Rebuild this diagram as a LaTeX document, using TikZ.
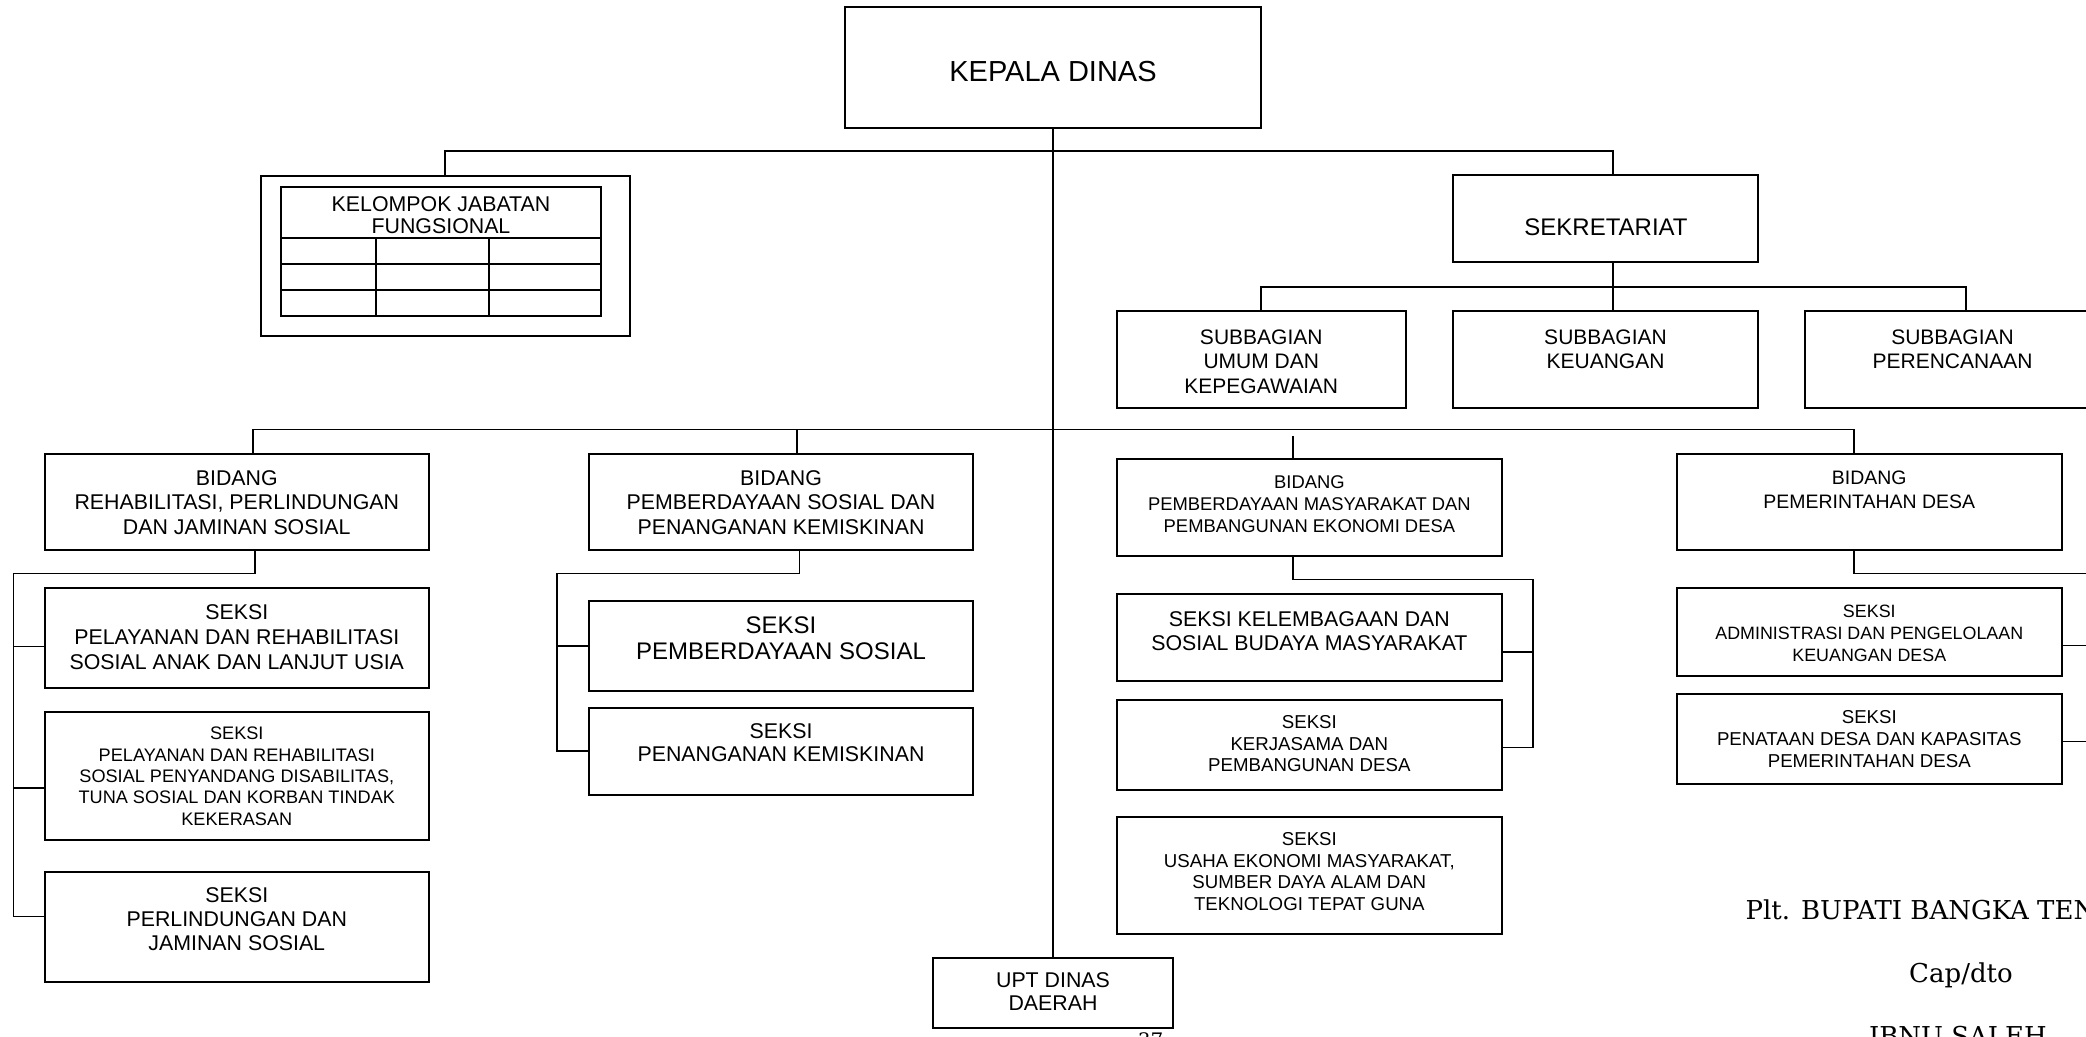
\documentclass[tikz,border=0pt]{standalone}
\usepackage{fontspec}
\setmainfont{Liberation Sans}
\newfontfamily\sigfont{DejaVu Serif}
\usetikzlibrary{calc}

\tikzset{every picture/.style={line width=0.75pt}}
\tikzset{
  box/.style 2 args={draw, line width=1.5pt, inner sep=0pt, minimum width=0.75*#1, minimum height=0.75*#2},
  txt/.style={align=center, anchor=north, inner sep=0pt},
  fs/.style 2 args={font=\fontsize{#1}{#2}\selectfont},
  conn/.style={line width=1.15pt},
}

\begin{document}
\begin{tikzpicture}[x=0.75pt,y=0.75pt,yscale=-1,xscale=1]
	\useasboundingbox (0,0) rectangle (2086,1037);
	\clip (0,0) rectangle (2086,1037);

	% kepala dinas
	\node[box={416}{121}] (kadis) at (1053,67.5) {};
	\node[fs={21.75}{25}, inner sep=0pt] (kadist) at ($(kadis.center)+(0,4)$) {KEPALA DINAS};

	% kelompok jabatan fungsional
	\node[box={369}{160}] (jf) at (445,256) {};
	\draw[line width=1.5pt] (281,187.5) rectangle (601,316.5);
	\draw[line width=1.5pt] (281,238) -- (601,238) (281,264) -- (601,264) (281,290) -- (601,290);
	\draw[conn] (376,238) -- (376,316.5) (489,238) -- (489,316.5);
	\node[txt, fs={16}{16.3}] (jft) at (441,196) {KELOMPOK JABATAN\\FUNGSIONAL};

	% sekretariat
	\node[box={305}{87}] (sekr) at (1605.5,218.5) {};
	\node[fs={18}{20}, inner sep=0pt] (sekrt) at (1606,227) {SEKRETARIAT};

	\node[box={288.5}{97}] (sub1) at (1261.25,360) {};
	\node[box={305}{97}] (sub2) at (1605.5,360) {};
	\node[box={295}{97}] (sub3) at (1952.5,360) {};
	\node[txt, fs={15.75}{18.5}] (sub1t) at ($(sub1.north)+(0,18.5)$) {SUBBAGIAN\\UMUM DAN\\KEPEGAWAIAN};
	\node[txt, fs={15.75}{18.5}] (sub2t) at ($(sub2.north)+(0,18.5)$) {SUBBAGIAN\\KEUANGAN};
	\node[txt, fs={15.75}{18.5}] (sub3t) at ($(sub3.north)+(0,18.5)$) {SUBBAGIAN\\PERENCANAAN};

	% bidang
	\node[box={383.6}{96}] (bid1) at (236.8,502) {};
	\node[box={384}{96}] (bid2) at (781,502) {};
	\node[box={385.3}{96.4}] (bid3) at (1309.4,507.6) {};
	\node[box={384.6}{96}] (bid4) at (1869.3,502) {};
	\node[txt, fs={16}{18.5}] (bid1t) at ($(bid1.north)+(0,16.7)$) {BIDANG\\REHABILITASI, PERLINDUNGAN\\DAN JAMINAN SOSIAL};
	\node[txt, fs={16}{18.5}] (bid2t) at ($(bid2.north)+(0,16.7)$) {BIDANG\\PEMBERDAYAAN SOSIAL DAN\\PENANGANAN KEMISKINAN};
	\node[txt, fs={13.8}{16.5}] (bid3t) at ($(bid3.north)+(0,17)$) {BIDANG\\PEMBERDAYAAN MASYARAKAT DAN\\PEMBANGUNAN EKONOMI DESA};
	\node[txt, fs={14.6}{18}] (bid4t) at ($(bid4.north)+(0,17)$) {BIDANG\\PEMERINTAHAN DESA};

	% seksi
	\node[box={383.6}{99.2}] (s11) at (236.8,638) {};
	\node[box={383.6}{128.3}] (s12) at (236.8,776.15) {};
	\node[box={383.6}{109.8}] (s13) at (236.8,926.7) {};
	\node[box={384}{89.8}] (s21) at (781,645.9) {};
	\node[box={384}{87}] (s22) at (781,751.2) {};
	\node[box={385.3}{87}] (s31) at (1309.35,637.5) {};
	\node[box={385.3}{89.8}] (s32) at (1309.35,745.1) {};
	\node[box={385.3}{117.3}] (s33) at (1309.35,875.35) {};
	\node[box={384.6}{87.7}] (s41) at (1869.3,632.15) {};
	\node[box={384.6}{89.7}] (s42) at (1869.3,739.15) {};

	\node[txt, fs={16}{18.9}] (s11t) at ($(s11.north)+(0,16.6)$) {SEKSI\\PELAYANAN DAN REHABILITASI\\SOSIAL ANAK DAN LANJUT USIA};
	\node[txt, fs={13.6}{16}] (s12t) at ($(s12.north)+(0,15.8)$) {SEKSI\\PELAYANAN DAN REHABILITASI\\SOSIAL PENYANDANG DISABILITAS,\\TUNA SOSIAL DAN KORBAN TINDAK\\KEKERASAN};
	\node[txt, fs={16}{17.8}] (s13t) at ($(s13.north)+(0,16.5)$) {SEKSI\\PERLINDUNGAN DAN\\JAMINAN SOSIAL};
	\node[txt, fs={18}{19.8}] (s21t) at ($(s21.north)+(0,15.8)$) {SEKSI\\PEMBERDAYAAN SOSIAL};
	\node[txt, fs={16}{17.7}] (s22t) at ($(s22.north)+(0,16)$) {SEKSI\\PENANGANAN KEMISKINAN};
	\node[txt, fs={16}{18}] (s31t) at ($(s31.north)+(0,17.7)$) {SEKSI KELEMBAGAAN DAN\\SOSIAL BUDAYA MASYARAKAT};
	\node[txt, fs={14}{16.2}] (s32t) at ($(s32.north)+(0,16)$) {SEKSI\\KERJASAMA DAN\\PEMBANGUNAN DESA};
	\node[txt, fs={14}{16.2}] (s33t) at ($(s33.north)+(0,16.5)$) {SEKSI\\USAHA EKONOMI MASYARAKAT,\\SUMBER DAYA ALAM DAN\\TEKNOLOGI TEPAT GUNA};
	\node[txt, fs={13.4}{16.5}] (s41t) at ($(s41.north)+(0,17)$) {SEKSI\\ADMINISTRASI DAN PENGELOLAAN\\KEUANGAN DESA};
	\node[txt, fs={14}{16.5}] (s42t) at ($(s42.north)+(0,17)$) {SEKSI\\PENATAAN DESA DAN KAPASITAS\\PEMERINTAHAN DESA};

	% upt
	\node[box={240}{70.7}] (upt) at (1053,992.95) {};
	\node[txt, fs={16}{17}] (uptt) at ($(upt.north)+(0,15.7)$) {UPT DINAS\\DAERAH};

	% garis atas
	\coordinate (tb) at (1053,151);
	\coordinate (sb) at (1613,287);
	\coordinate (lb) at (1053,429.5);
	\draw[conn] (kadis.south) -- (upt.north);
	\draw[conn] (jf.north) |- (tb) -| ($(sekr.north)+(7.5,0)$);
	\draw[conn] ($(sekr.south)+(7.5,0)$) -- ($(sub2.north)+(7.5,0)$);
	\draw[conn] (sub1.north) |- (sb) -| ($(sub3.north)+(13.5,0)$);

	% garis bidang
	\coordinate (b2top) at ($(bid2.north)+(16,0)$);
	\coordinate (b3top) at ($(bid3.north)+(-16.4,0)$);
	\draw[conn] ($(bid1.north)+(16,0)$) |- (lb) -| ($(bid4.north)+(-15.3,0)$);
	\draw[conn] (b2top) -- (b2top |- lb);
	\draw[conn] (b3top) -- (b3top |- 0,435.7);

	% bidang 1
	\coordinate (b1v) at (13.4,573.5);
	\draw[conn] ($(bid1.south)+(18,0)$) |- (b1v) -- (b1v |- 0,916.6) -- (s13.west |- 0,916.6);
	\draw[conn] (b1v |- 0,646.3) -- (s11.west |- 0,646.3);
	\draw[conn] (b1v |- 0,788) -- (s12.west |- 0,788);

	% bidang 2
	\coordinate (b2v) at (557,573.5);
	\draw[conn] ($(bid2.south)+(18.5,0)$) |- (b2v) |- (s22.west);
	\draw[conn] (b2v |- s21.west) -- (s21.west);

	% bidang 3
	\coordinate (b3v) at (1533,579.4);
	\draw[conn] ($(bid3.south)+(-16.4,0)$) |- (b3v) -- (b3v |- 0,747.4) -- (s32.east |- 0,747.4);
	\draw[conn] (b3v |- 0,652.2) -- (s31.east |- 0,652.2);

	% bidang 4
	\coordinate (b4v) at (2100,573.5);
	\draw[conn] ($(bid4.south)+(-15.3,0)$) |- (b4v) -- (b4v |- 0,741.3) -- (s42.east |- 0,741.3);
	\draw[conn] (b4v |- 0,645.7) -- (s41.east |- 0,645.7);

	% tanda tangan
	\node[font=\sigfont\fontsize{19.5}{22}\selectfont, inner sep=0pt, anchor=base west] (plt) at (1745,919) {Plt. BUPATI BANGKA TENGAH};
	\node[font=\sigfont\fontsize{19.5}{22}\selectfont, inner sep=0pt, anchor=base] (cap) at (1961,982.7) {Cap/dto};
	\node[font=\sigfont\fontsize{19.5}{22}\selectfont, inner sep=0pt, anchor=base] (nama) at (1958,1045.4) {IBNU SALEH};
	\node[font=\sigfont\fontsize{15}{17}\selectfont, inner sep=0pt, anchor=north] (hal) at (1150.5,1031.7) {37};

\end{tikzpicture}
\end{document}
